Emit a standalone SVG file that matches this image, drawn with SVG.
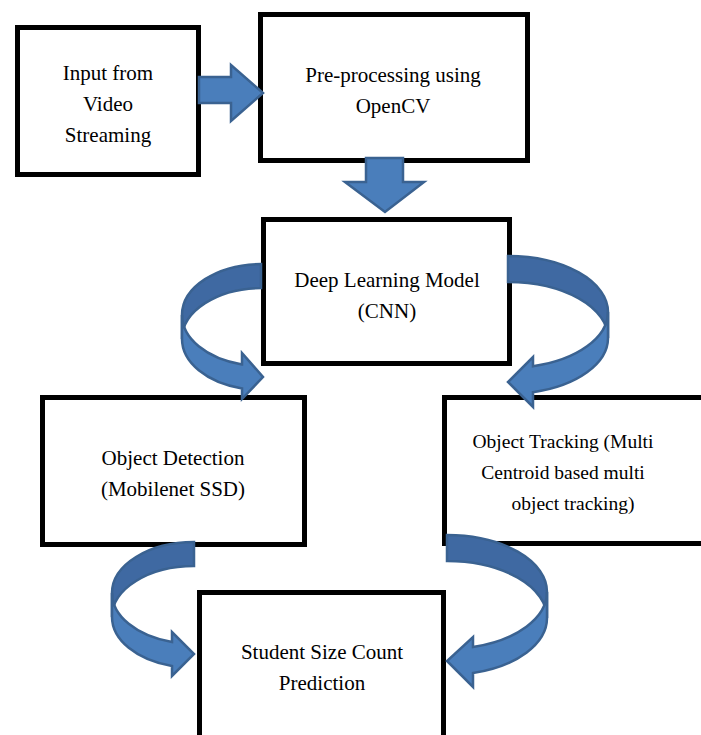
<svg xmlns="http://www.w3.org/2000/svg" width="701" height="735" viewBox="0 0 701 735">
<style>
.box{fill:#fff;stroke:#000;stroke-width:5}
.t{font-family:"Liberation Serif","Times New Roman",serif;font-size:21px;fill:#000;text-anchor:middle}
.s{font-size:19.5px}
.arr{fill:#4a7ebb;stroke:#3a6291;stroke-width:2.5;stroke-linejoin:miter}
.back{fill:#3f69a2;stroke:#3a6291;stroke-width:2.5}
</style>
<rect width="701" height="735" fill="#fff"/>
<g id="n1"><rect class="box" x="17.5" y="27.5" width="181" height="147"/>
<text class="t" x="108" y="80">Input from</text><text class="t" x="108" y="111">Video</text><text class="t" x="108" y="142">Streaming</text></g>
<g id="n2"><rect class="box" x="260.5" y="14.5" width="267" height="146"/>
<text class="t" x="393" y="82">Pre-processing using</text><text class="t" x="393" y="113">OpenCV</text></g>
<g id="n3"><rect class="box" x="263.5" y="219.5" width="246" height="144"/>
<text class="t" x="387" y="287">Deep Learning Model</text><text class="t" x="387" y="318">(CNN)</text></g>
<g id="n4"><rect class="box" x="42.5" y="397.5" width="262" height="147"/>
<text class="t" x="173" y="465">Object Detection</text><text class="t" x="173" y="496">(Mobilenet SSD)</text></g>
<g id="n5"><rect class="box" x="444.5" y="397.5" width="270" height="146"/>
<text class="t s" x="563" y="448">Object Tracking (Multi</text><text class="t s" x="563" y="479">Centroid based multi</text><text class="t s" x="573" y="510">object tracking)</text></g>
<g id="n6"><rect class="box" x="199.5" y="592.5" width="244" height="160"/>
<text class="t" x="322" y="659">Student Size Count</text><text class="t" x="322" y="690">Prediction</text></g>
<g id="connectors">
<path class="arr" d="M199,77 H231 V65 L263,93 L231,121 V103 H199 Z"/>
<path class="arr" d="M366,158 V182 H345 L385,212 L424,182 H403 V158 Z"/>
<path class="back" d="M261,264 A80,51 0 0 0 182,315 L182,339 A80,51 0 0 1 261,288 Z"/>
<path class="arr" d="M182,315 A80,51 0 0 0 242,364.4 L242,353 L263,377 L242,399 L242,388.4 A80,51 0 0 1 182,339 Z"/>
<path class="back" d="M508,256 A100,56 0 0 1 608,312 L608,338 A100,56 0 0 0 508,282 Z"/>
<path class="arr" d="M608,312 A100,56 0 0 1 533,366.2 L533,357 L508,382 L533,407 L533,392.2 A100,56 0 0 0 608,338 Z"/>
<path class="back" d="M194,542 A82,51 0 0 0 112,593 L112,617 A82,51 0 0 1 194,566 Z"/>
<path class="arr" d="M112,593 A82,51 0 0 0 172,642.1 L172,632 L194,654 L172,676 L172,666.1 A82,51 0 0 1 112,617 Z"/>
<path class="back" d="M447,535 A100,57 0 0 1 547,592 L547,618 A100,57 0 0 0 447,561 Z"/>
<path class="arr" d="M547,592 A100,57 0 0 1 473,647.1 L473,637 L447,661 L473,687 L473,673.1 A100,57 0 0 0 547,618 Z"/>
</g>
</svg>
